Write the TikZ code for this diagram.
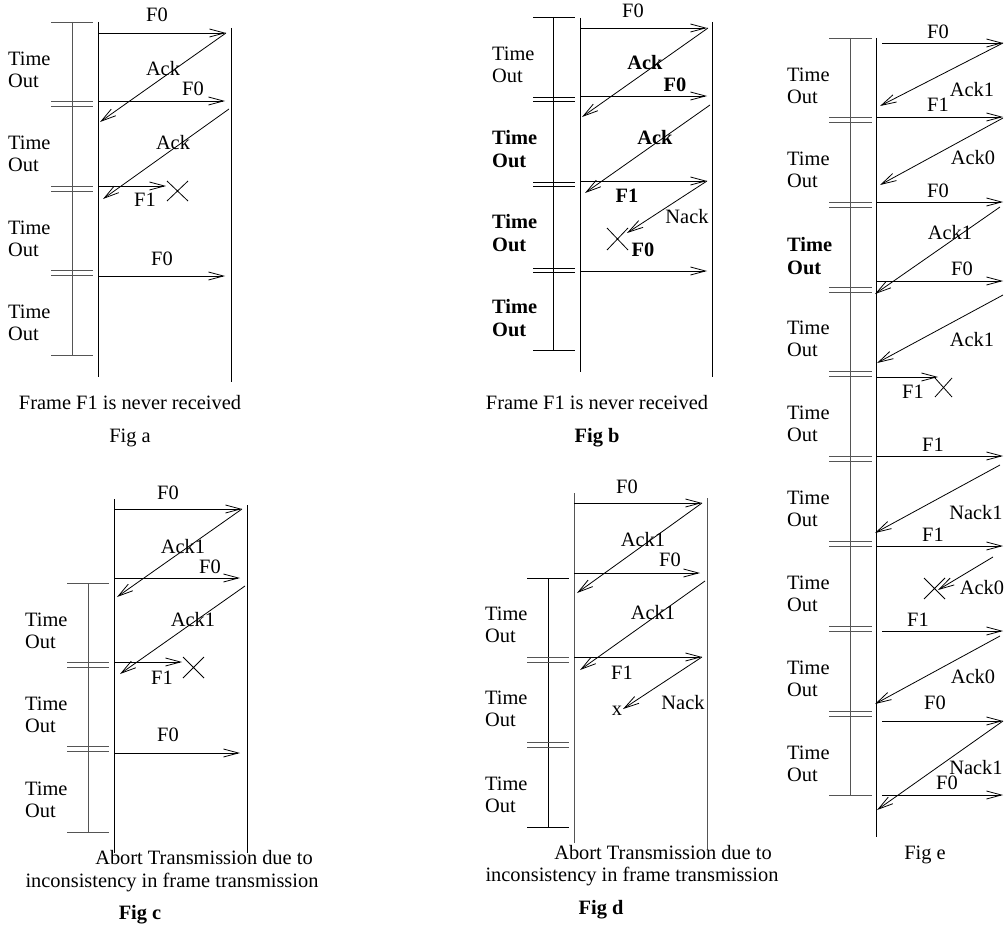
\documentclass[tikz,border=0pt]{standalone}
\usepackage{fontspec}
\setmainfont{Liberation Serif}
\usetikzlibrary{arrows.meta}
\definecolor{barGray}{RGB}{85, 85, 85}

\begin{document}
\begin{tikzpicture}[x=1pt, y=-1pt,
      font=\fontsize{20.4}{22.5}\selectfont,
      heavy/.style={font=\fontsize{20.4}{22.5}\selectfont\bfseries},
      lifeline/.style={draw=black, line width=0.9pt},
      tbar/.style={draw=barGray, line width=0.9pt},
      msg/.style={line width=0.8pt, -{Straight Barb[length=15pt, width=8pt]}},
      lbl/.style={inner sep=0pt},
      tout/.style={align=left, anchor=west, inner sep=0pt},
      lost/.style={line width=0.8pt}]

  \useasboundingbox (0,0) rectangle (1004,928);

  % Fig a
  \draw[tbar] (72,22) -- (72,355) (51,22) -- (93,22) (51,355) -- (93,355);
  \foreach \y in {101,186,270} \draw[tbar] (51,\y) -- (93,\y) (51,\y+5) -- (93,\y+5);
  \draw[lifeline] (98,22) -- (98,377) (231,28) -- (231,382);
  \foreach \y/\n in {70/a1,154/a2,239/a3,323/a4} \node[tout] (to\n) at (8,\y) {Time\\Out};
  \draw[msg] (98,33) -- (226,33);    \node[lbl] (aF0) at (157,15) {F0};
  \draw[msg] (226,33) -- (100,122);  \node[lbl] (aAck) at (163,69) {Ack};
  \draw[msg] (98,101) -- (225,101);  \node[lbl] (aF0b) at (193,89) {F0};
  \draw[msg] (229,109) -- (103,199); \node[lbl] (aAckb) at (173,143) {Ack};
  \draw[msg] (98,186) -- (166,186);  \node[lbl] (aF1) at (145,200) {F1};
  \draw[lost] (167,181) -- (188,201) (167,201) -- (188,181);
  \draw[msg] (98,276) -- (225,276);  \node[lbl] (aF0c) at (162,259) {F0};
  \node (capA) at (130,403) {Frame F1 is never received};
  \node (figA) at (130,438) {Fig a};

  % Fig b
  \draw[tbar, draw=black] (553,17) -- (553,350) (533,17) -- (575,17) (533,350) -- (575,350);
  \foreach \y in {97,182,268} \draw[tbar, draw=black] (533,\y) -- (575,\y) (533,\y+4) -- (575,\y+4);
  \draw[lifeline] (580,18) -- (580,372) (712,22) -- (712,377);
  \node[tout] (tob1) at (492,65) {Time\\Out};
  \foreach \y/\n in {149/b2,233/b3,318/b4} \node[tout, heavy] (to\n) at (492,\y) {Time\\Out};
  \draw[msg] (580,28) -- (707,28);   \node[lbl] (bF0) at (633,11) {F0};
  \draw[msg] (708,28) -- (582,117);  \node[lbl, heavy] (bAck) at (645,63) {Ack};
  \draw[msg] (580,96) -- (707,96);   \node[lbl, heavy] (bF0b) at (675,85) {F0};
  \draw[msg] (710,105) -- (585,193); \node[lbl, heavy] (bAckb) at (655,138) {Ack};
  \draw[msg] (580,181) -- (707,181); \node[lbl, heavy] (bF1) at (627,196) {F1};
  \draw[msg] (707,181) -- (627,233); \node[lbl] (bNack) at (687,217) {Nack};
  \draw[lost] (607,228) -- (628,250) (607,250) -- (628,228);
  \node[lbl, heavy] (bF0c) at (643,250) {F0};
  \draw[msg] (580,271) -- (707,271);
  \node (capB) at (597,403) {Frame F1 is never received};
  \node[heavy] (figB) at (597,438) {Fig b};

  % Fig c
  \draw[tbar] (88,583) -- (88,832) (67,583) -- (109,583) (67,832) -- (109,832);
  \foreach \y in {662,746} \draw[tbar] (67,\y) -- (109,\y) (67,\y+5) -- (109,\y+5);
  \draw[lifeline] (114,499) -- (114,853) (247,505) -- (247,853);
  \foreach \y/\n in {631/c1,715/c2,800/c3} \node[tout] (to\n) at (25,\y) {Time\\Out};
  \draw[msg] (114,509) -- (242,509); \node[lbl] (cF0) at (168,493) {F0};
  \draw[msg] (242,509) -- (117,597); \node[lbl] (cAck) at (183,547) {Ack1};
  \draw[msg] (114,578) -- (240,578); \node[lbl] (cF0b) at (210,567) {F0};
  \draw[msg] (245,586) -- (120,674); \node[lbl] (cAckb) at (193,620) {Ack1};
  \draw[msg] (114,662) -- (182,662); \node[lbl] (cF1) at (162,678) {F1};
  \draw[lost] (183,657) -- (204,678) (183,678) -- (204,657);
  \draw[msg] (114,753) -- (240,753); \node[lbl] (cF0c) at (168,735) {F0};
  \node[lbl] (capC) at (204,858) {Abort Transmission due to};
  \node[lbl] (capCb) at (172,883) {inconsistency in frame transmission};
  \node[heavy] (figC) at (140,915) {Fig c};

  % Fig d
  \draw[tbar, draw=black] (548,578) -- (548,827) (527,578) -- (569,578) (527,827) -- (569,827);
  \foreach \y in {657,742} \draw[tbar] (527,\y) -- (569,\y) (527,\y+5) -- (569,\y+5);
  \draw[lifeline, draw=barGray] (574,493) -- (574,843) (707,498) -- (707,850);
  \foreach \y/\n in {625/d1,709/d2,795/d3} \node[tout] (to\n) at (485,\y) {Time\\Out};
  \draw[msg] (574,503) -- (702,503); \node[lbl] (dF0) at (627,487) {F0};
  \draw[msg] (702,503) -- (577,593); \node[lbl] (dAck) at (643,540) {Ack1};
  \draw[msg] (574,573) -- (700,573); \node[lbl] (dF0b) at (670,560) {F0};
  \draw[msg] (705,581) -- (580,670); \node[lbl] (dAckb) at (653,613) {Ack1};
  \draw[msg] (574,657) -- (702,657); \node[lbl] (dF1) at (622,673) {F1};
  \draw[msg] (702,657) -- (623,709); \node[lbl] (dNack) at (683,703) {Nack};
  \node[lbl] (dx) at (617,711) {x};
  \node[lbl] (capD) at (663,853) {Abort Transmission due to};
  \node[lbl] (capDb) at (632,877) {inconsistency in frame transmission};
  \node[heavy] (figD) at (601,910) {Fig d};

  % Fig e
  \draw[tbar] (850,38) -- (850,795) (829,38) -- (872,38) (829,795) -- (872,795);
  \foreach \y in {117,202,287,371,456,541,626,711} \draw[tbar] (829,\y) -- (872,\y) (829,\y+5) -- (872,\y+5);
  \draw[lifeline] (876,38) -- (876,837);
  \foreach \y/\n in {86/e1,170/e2,339/e4,424/e5,509/e6,594/e7,679/e8,764/e9} \node[tout] (to\n) at (787,\y) {Time\\Out};
  \node[tout, heavy] (toe3) at (787,256) {Time\\Out};
  \draw[msg] (882,43) -- (1003,43);   \node[lbl] (eF0) at (938,32) {F0};
  \draw[msg] (1003,43) -- (880,106);  \node[lbl] (eAck) at (972,90) {Ack1};
  \draw[msg] (876,117) -- (1003,117); \node[lbl] (eF1) at (938,105) {F1};
  \draw[msg] (1003,118) -- (880,185); \node[lbl] (eAckb) at (973,158) {Ack0};
  \draw[msg] (876,202) -- (1003,202); \node[lbl] (eF0b) at (938,191) {F0};
  \draw[msg] (1000,207) -- (875,294); \node[lbl] (eAckc) at (950,233) {Ack1};
  \draw[msg] (876,281) -- (1003,281); \node[lbl] (eF0c) at (962,269) {F0};
  \draw[msg] (1003,295) -- (877,363); \node[lbl] (eAckd) at (972,340) {Ack1};
  \draw[msg] (876,377) -- (938,377);  \node[lbl] (eF1b) at (913,392) {F1};
  \draw[lost] (935,397) -- (952,378) (935,378) -- (952,397);
  \draw[msg] (876,456) -- (1003,456); \node[lbl] (eF1c) at (933,445) {F1};
  \draw[msg] (1000,465) -- (875,533); \node[lbl] (eNack) at (976,513) {Nack1};
  \draw[msg] (876,546) -- (1003,546); \node[lbl] (eF1d) at (933,535) {F1};
  \draw[msg] (993,557) -- (938,590);  \node[lbl] (eAcke) at (982,588) {Ack0};
  \draw[lost] (924,578) -- (945,599) (924,599) -- (945,578);
  \draw[msg] (882,631) -- (1003,631); \node[lbl] (eF1e) at (918,620) {F1};
  \draw[msg] (1000,636) -- (875,704); \node[lbl] (eAckf) at (973,677) {Ack0};
  \draw[msg] (882,721) -- (1003,721); \node[lbl] (eF0d) at (935,703) {F0};
  \draw[msg] (1003,721) -- (877,810); \node[lbl] (eNackb) at (976,768) {Nack1};
  \draw[msg] (882,795) -- (1003,795); \node[lbl] (eF0e) at (947,783) {F0};
  \node (figE) at (925,855) {Fig e};
\end{tikzpicture}
\end{document}
